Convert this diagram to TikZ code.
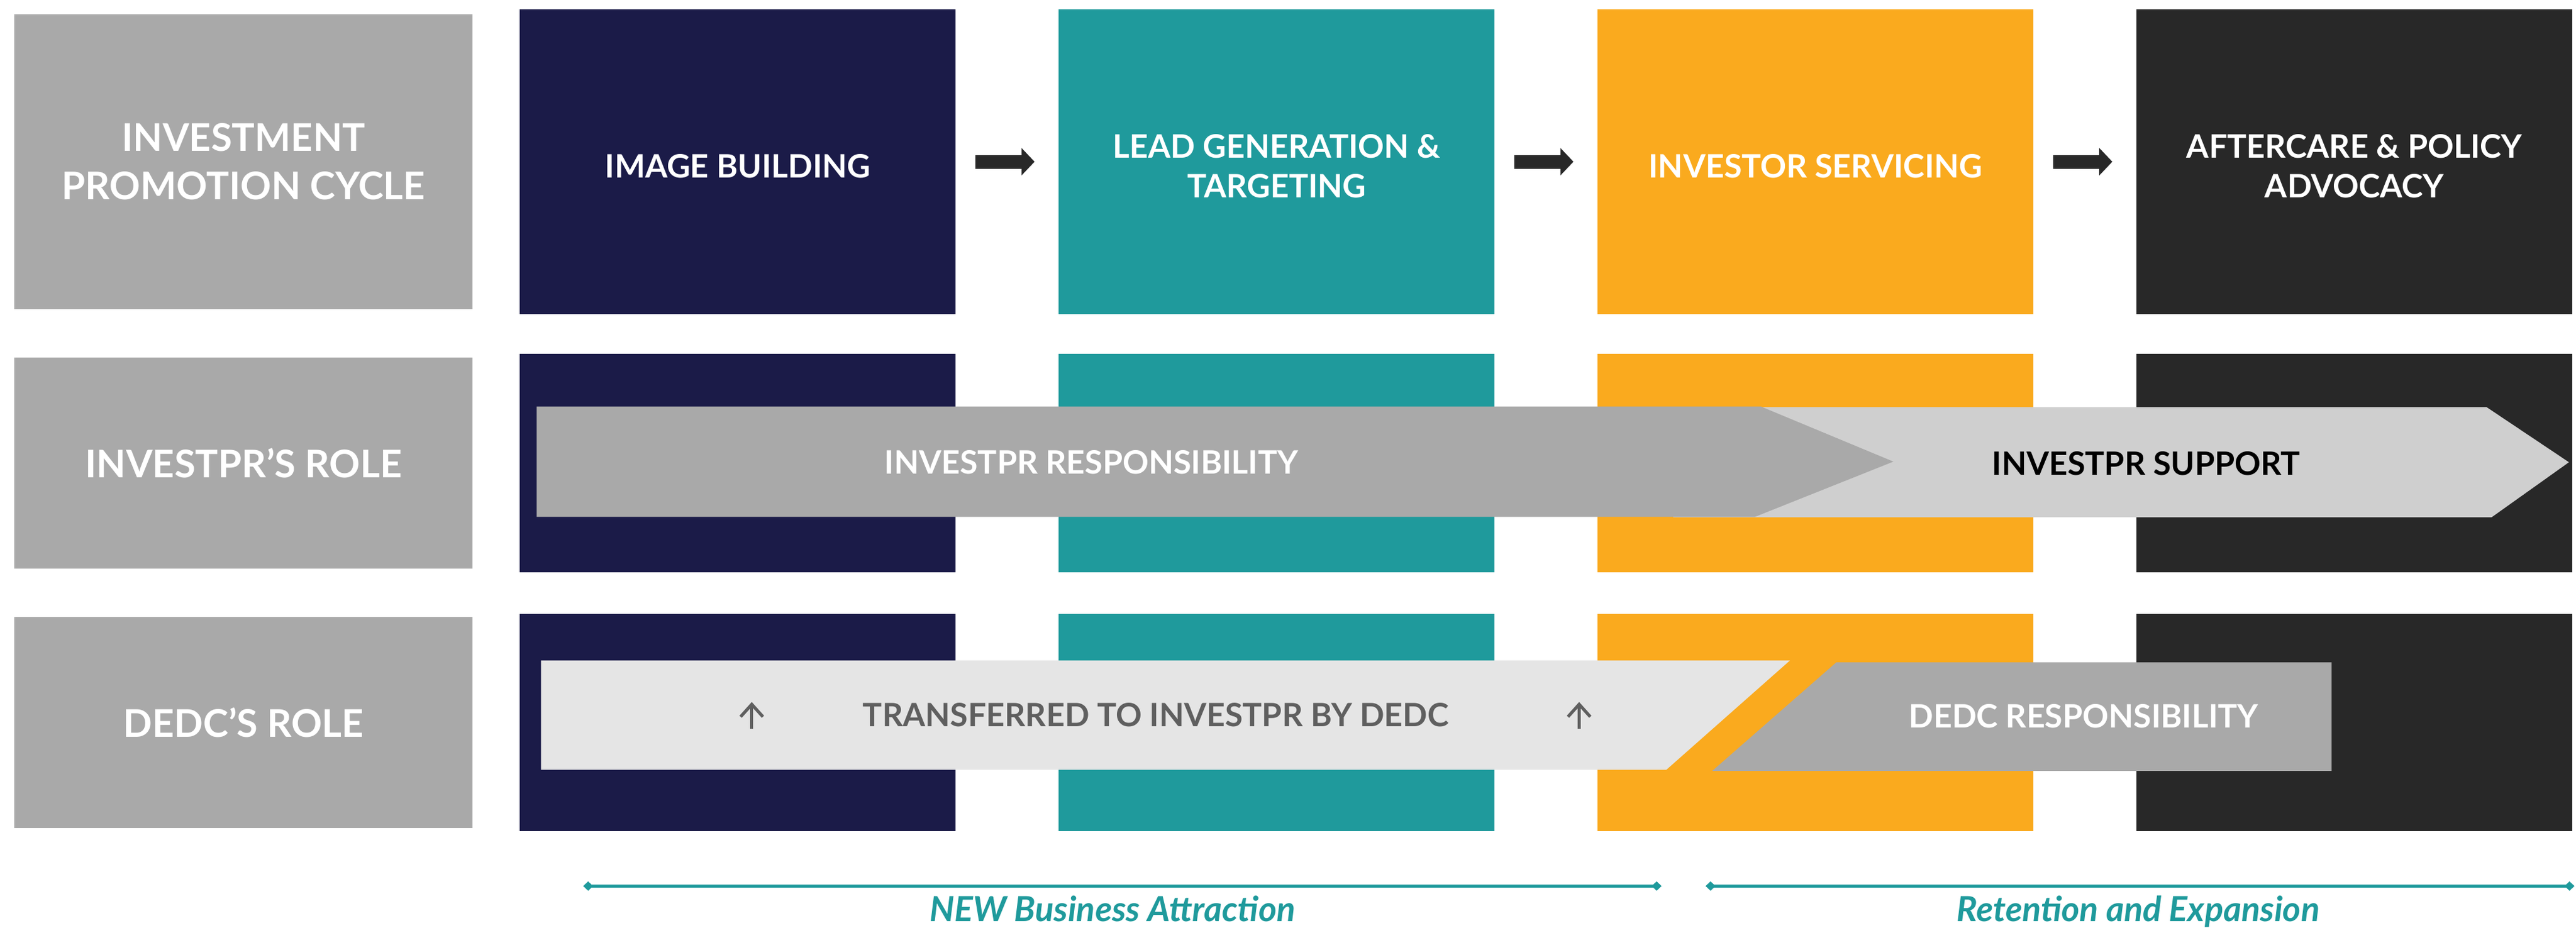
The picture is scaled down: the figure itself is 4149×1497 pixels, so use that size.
\documentclass[tikz,border=0pt]{standalone}
\usepackage{fontspec}
\setmainfont{Lato}
\usetikzlibrary{arrows.meta}
\usetikzlibrary{positioning}

\definecolor{cycNavy}{HTML}{1B1B48}
\definecolor{cycTeal}{HTML}{1F9A9C}
\definecolor{cycOrange}{HTML}{FAAA1E}
\definecolor{cycDark}{HTML}{282828}
\definecolor{roleGray}{HTML}{A9A9A9}
\definecolor{bandLight}{HTML}{CFCFCF}
\definecolor{bandPale}{HTML}{E5E5E5}
\definecolor{txtGray}{HTML}{5F5F5F}

\newcommand{\boxfont}{\fontsize{14.8pt}{18.2pt}\selectfont\bfseries}
\newcommand{\sidefont}{\fontsize{17.5pt}{22.2pt}\selectfont\bfseries}
\newcommand{\spanfont}{\fontsize{15.9pt}{18pt}\selectfont\bfseries\itshape}
\newcommand{\capgap}{\rule{0pt}{0.52cm}}

\begin{document}
\begin{tikzpicture}[
		x=0.01cm, y=-0.01cm,
		node distance=1.66cm,
		cell/.style={inner sep=0pt, outer sep=0pt, minimum width=7.03cm, align=center, text=white, font=\boxfont},
		title/.style={cell, minimum height=4.92cm},
		side/.style={cell, fill=roleGray, minimum width=7.39cm, minimum height=3.41cm, font=\sidefont},
		bandtext/.style={inner sep=0pt, text=white, font=\boxfont},
		spantext/.style={inner sep=0pt, anchor=base, text=cycTeal, font=\spanfont},
		flow/.style={draw=cycDark, line width=0.22cm, -{Triangle[length=0.21cm, width=0.43cm]}, shorten <=0.32cm, shorten >=0.39cm},
		span/.style={draw=cycTeal, line width=0.05cm, {Diamond[length=0.16cm, width=0.15cm]}-{Diamond[length=0.16cm, width=0.15cm]}},
		uparr/.style={draw=txtGray, line width=0.05cm, -{Straight Barb[length=0.2cm, width=0.36cm]}}
	]
	\fill[white] (0,0) rectangle (4149,1497);

	% cycle row
	\node[title, fill=cycNavy] (img) at (1190.5,261) {\capgap IMAGE BUILDING};
	\node[title, fill=cycTeal, right=of img] (lead) {\capgap LEAD GENERATION \&\\TARGETING};
	\node[title, fill=cycOrange, right=of lead] (serv) {\capgap INVESTOR SERVICING};
	\node[title, fill=cycDark, right=of serv] (care) {\capgap AFTERCARE \& POLICY\\ADVOCACY};
	\node[side, minimum height=4.75cm, left=0.76cm of img] (cyc) {INVESTMENT\\PROMOTION CYCLE};

	\draw[flow] (img) -- (lead);
	\draw[flow] (lead) -- (serv);
	\draw[flow] (serv) -- (care);

	% InvestPR row
	\node[cell, fill=cycNavy, minimum height=3.52cm, below=0.64cm of img] (img2) {};
	\node[cell, fill=cycTeal, minimum height=3.52cm, right=of img2] (lead2) {};
	\node[cell, fill=cycOrange, minimum height=3.52cm, right=of lead2] (serv2) {};
	\node[cell, fill=cycDark, minimum height=3.52cm, right=of serv2] (care2) {};
	\node[side, left=0.76cm of img2] (role) {INVESTPR’S ROLE};

	\fill[bandLight] (2700,657) -- (4012,657) -- (4145,746) -- (4020,835) -- (2700,835) -- cycle;
	\fill[roleGray] (866,656) -- (2841,656) -- (3055,745) -- (2832,834) -- (866,834) -- cycle;
	\node[bandtext] (resp) at (1761,746) {INVESTPR RESPONSIBILITY};
	\node[bandtext, text=black] (supp) at (3463,748) {INVESTPR SUPPORT};

	% DEDC row
	\node[cell, fill=cycNavy, minimum height=3.51cm, below=0.67cm of img2] (img3) {};
	\node[cell, fill=cycTeal, minimum height=3.51cm, right=of img3] (lead3) {};
	\node[cell, fill=cycOrange, minimum height=3.51cm, right=of lead3] (serv3) {};
	\node[cell, fill=cycDark, minimum height=3.51cm, right=of serv3] (care3) {};
	\node[side, left=0.76cm of img3] (dedc) {DEDC’S ROLE};

	\fill[bandPale] (873,1066) -- (2888,1066) -- (2689,1242) -- (873,1242) -- cycle;
	\fill[roleGray] (2963,1069) -- (3762,1069) -- (3762,1244) -- (2763,1244) -- cycle;
	\node[bandtext, text=txtGray] (xfer) at (1865,1154) {TRANSFERRED TO INVESTPR BY DEDC};
	\node[bandtext] (dresp) at (3362,1156) {DEDC RESPONSIBILITY};
	\foreach \ux [count=\i] in {1213,2548} {
		\coordinate (upB\i) at (\ux,1176);
		\coordinate (upT\i) at (\ux,1133);
		\draw[uparr] (upB\i) -- (upT\i);
	}

	% phases
	\coordinate (newL) at (941,1430);
	\coordinate (newR) at (2681,1430);
	\coordinate (retL) at (2752,1430);
	\coordinate (retR) at (4154,1430);
	\draw[span] (newL) -- (newR);
	\draw[span] (retL) -- (retR);
	\node[spantext] (newba) at (1795,1487) {NEW Business Attraction};
	\node[spantext] (reten) at (3450,1487) {Retention and Expansion};
\end{tikzpicture}
\end{document}
